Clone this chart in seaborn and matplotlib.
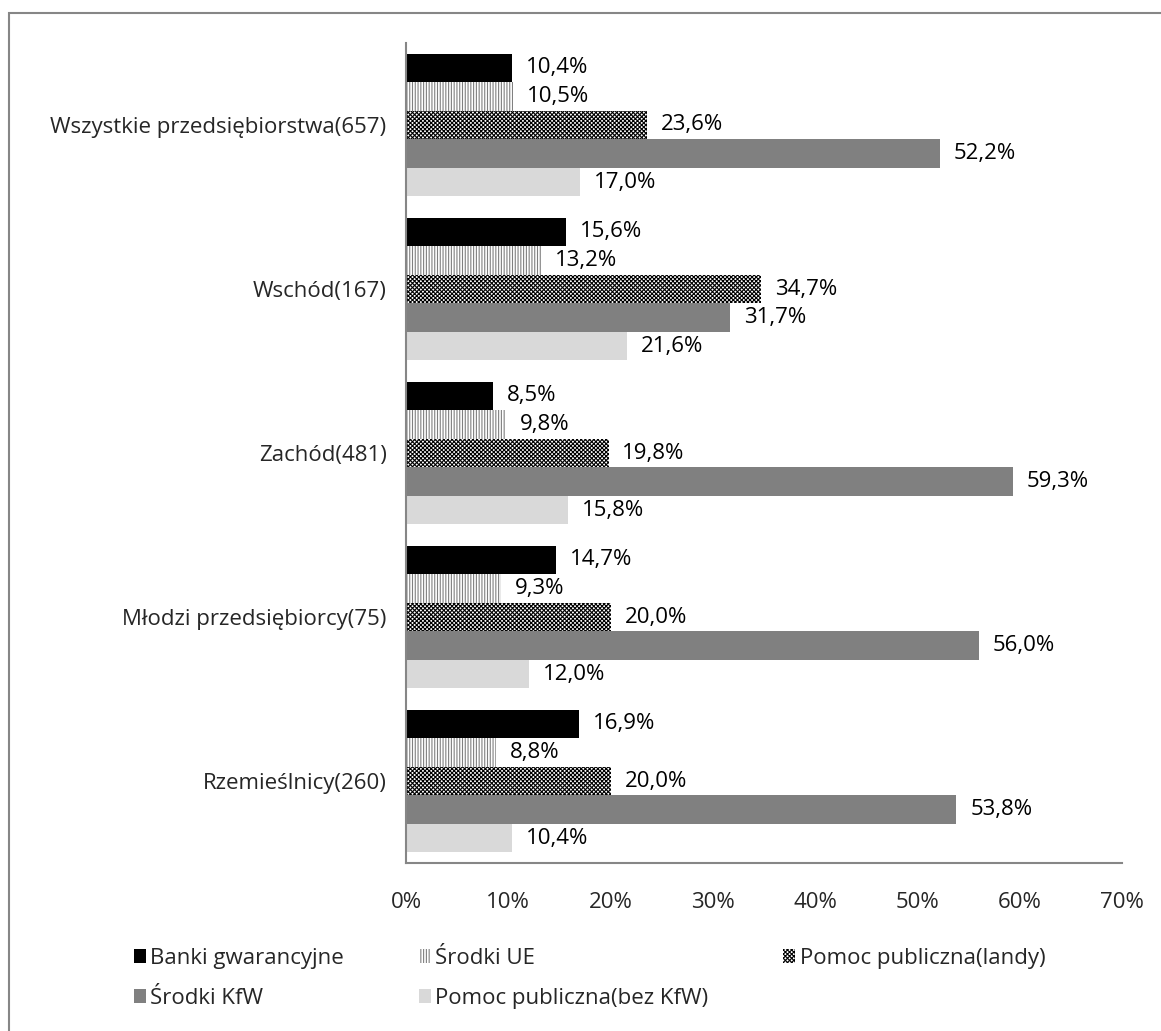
import matplotlib
matplotlib.use('Agg')
import matplotlib.pyplot as plt
import numpy as np
import pandas as pd
import seaborn as sns
from matplotlib.patches import Rectangle

sns.set_theme(style='white')
plt.rcParams['font.family'] = ['Open Sans', 'DejaVu Sans']
plt.rcParams['hatch.linewidth'] = 0.8

categories = [
    'Wszystkie przedsiębiorstwa(657)',
    'Wschód(167)',
    'Zachód(481)',
    'Młodzi przedsiębiorcy(75)',
    'Rzemieślnicy(260)',
]
series = [
    'Banki gwarancyjne',
    'Środki UE',
    'Pomoc publiczna(landy)',
    'Środki KfW',
    'Pomoc publiczna(bez KfW)',
]
banki = [10.4, 15.6, 8.5, 14.7, 16.9]
srodki_ue = [10.5, 13.2, 9.8, 9.3, 8.8]
landy = [23.6, 34.7, 19.8, 20.0, 20.0]
kfw = [52.2, 31.7, 59.3, 56.0, 53.8]
bez_kfw = [17.0, 21.6, 15.8, 12.0, 10.4]
x_ticks = [0, 10, 20, 30, 40, 50, 60, 70]

df = pd.DataFrame({
    'grupa': categories * 5,
    'seria': np.repeat(series, len(categories)),
    'wartosc': banki + srodki_ue + landy + kfw + bez_kfw,
})

# face, hatch colour, hatch
styles = [
    ('#000000', '#000000', None),
    ('#ffffff', '#808080', '||||||'),
    ('#ffffff', '#000000', 'xxxxxxxx'),
    ('#808080', '#808080', None),
    ('#d9d9d9', '#d9d9d9', None),
]
FS = 16

fig = plt.figure(figsize=(11.61, 10.31), dpi=100)
ax = fig.add_axes([0.3497, 0.1629, 0.9664 - 0.3497, 0.9583 - 0.1629])

sns.barplot(data=df, y='grupa', x='wartosc', hue='seria', order=categories,
            hue_order=series, orient='h', width=0.87, legend=False,
            palette=[s[0] for s in styles], saturation=1, ax=ax)

for cont, (fc, hc, h) in zip(ax.containers, styles):
    for bar in cont:
        bar.set_facecolor(fc)
        bar.set_edgecolor(hc)
        bar.set_linewidth(0)
        if h:
            bar.set_hatch(h)
    ax.bar_label(cont, labels=[f'{v:.1f}%'.replace('.', ',') for v in cont.datavalues],
                 padding=10, fontsize=FS, color='#000000')

ax.set_xlim(0, 70)
ax.set_ylim(len(categories) - 0.5, -0.5)
ax.set_xticks(x_ticks)
ax.set_xticklabels([f'{t}%' for t in x_ticks], fontsize=FS)
ax.tick_params(axis='x', length=0, pad=21)
ax.tick_params(axis='y', length=0, pad=14, labelsize=FS)
ax.set_xlabel('')
ax.set_ylabel('')
for side in ['top', 'right']:
    ax.spines[side].set_visible(False)
for side in ['left', 'bottom']:
    ax.spines[side].set_color('#868686')
    ax.spines[side].set_linewidth(1.5)

# legend is filled column by column, reorder to get rows like the original
order = [0, 3, 1, 4, 2]
fig.legend(handles=[ax.containers[i] for i in order],
           labels=[series[i] for i in order], ncol=3, frameon=False,
           loc='upper left', bbox_to_anchor=(0.098, 0.1), fontsize=FS,
           handlelength=0.55, handleheight=0.55, handletextpad=0.2,
           columnspacing=3.35, labelspacing=0.85)

fig.patches.append(Rectangle((9 / 1161, -0.1), 1.2, 1 - 13 / 1031 + 0.1,
                             transform=fig.transFigure, fill=False,
                             edgecolor='#868686', linewidth=1.5))

fig.savefig('out.png', dpi=100)
